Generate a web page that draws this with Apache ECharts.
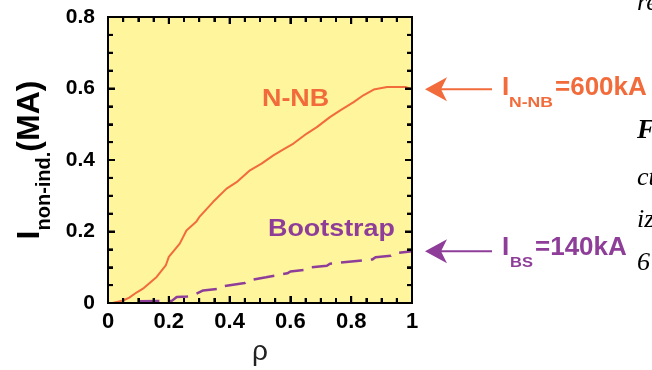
<!DOCTYPE html>
<html>
<head>
<meta charset="utf-8">
<script src="https://cdn.jsdelivr.net/npm/echarts@6/dist/echarts.min.js"></script>
<style>
    html, body { margin: 0; padding: 0; background: #fff; }
    #echarts { width: 652px; height: 370px; }
</style>
</head>
<body>
<div id="echarts"></div>
<script>
    /* data */
    var rho = [0.015, 0.05, 0.07, 0.095, 0.115, 0.16, 0.19, 0.2, 0.236, 0.258, 0.29, 0.3, 0.346, 0.39, 0.423,
        0.467, 0.505, 0.544, 0.577, 0.61, 0.654, 0.687, 0.73, 0.764, 0.808, 0.84, 0.874, 0.918, 0.978, 1.0];
    var nnb = [0, 0.007, 0.015, 0.03, 0.04, 0.073, 0.105, 0.129, 0.166, 0.203, 0.227, 0.24, 0.283, 0.32, 0.338,
        0.371, 0.39, 0.413, 0.43, 0.446, 0.474, 0.492, 0.52, 0.539, 0.562, 0.581, 0.597, 0.604, 0.604, 0.598];
    var bsRho = [0.1, 0.21, 0.226, 0.26, 0.29, 0.313, 0.37, 0.38, 0.45, 0.46, 0.52, 0.59, 0.6, 0.66, 0.67,
        0.72, 0.73, 0.87, 0.88, 0.93, 0.94, 1.0];
    var bs = [0.005, 0.006, 0.017, 0.018, 0.026, 0.035, 0.04, 0.047, 0.056, 0.063, 0.072, 0.083, 0.088, 0.094, 0.1,
        0.104, 0.11, 0.122, 0.128, 0.132, 0.139, 0.145];
    var xTicks = [0, 0.2, 0.4, 0.6, 0.8, 1];
    var yTicks = [0, 0.2, 0.4, 0.6, 0.8];

    var orange = '#F26B3B', purple = '#8E3E98', yellow = '#FFF59D';
    var font = '"Liberation Sans", Arial, sans-serif';
    var serif = '"Liberation Serif", "Times New Roman", serif';

    var myChart = echarts.init(document.getElementById('echarts'));

    function frameAxis(ticks, pos, withLabel) {
        return {
            type: 'value',
            position: pos,
            z: 5,
            min: ticks[0],
            max: ticks[ticks.length - 1],
            interval: ticks[1] - ticks[0],
            axisLine: { show: true, onZero: false, lineStyle: { color: '#000', width: 2 } },
            axisTick: { show: true, inside: true, length: 7, lineStyle: { color: '#000', width: 2 } },
            minorTick: { show: true, splitNumber: 4, length: 5, lineStyle: { color: '#000', width: 2 } },
            splitLine: { show: false },
            minorSplitLine: { show: false },
            axisLabel: { show: withLabel, color: '#000', fontWeight: 'bold', fontFamily: font, fontSize: 22 }
        };
    }

    var xBottom = frameAxis(xTicks, 'bottom', true);
    xBottom.axisLabel.margin = 8;
    xBottom.name = 'ρ';
    xBottom.nameLocation = 'middle';
    xBottom.nameGap = 31;
    xBottom.nameTextStyle = { fontSize: 28, color: '#222', fontFamily: font };

    var yLeft = frameAxis(yTicks, 'left', true);
    yLeft.axisLabel.margin = 13;
    yLeft.axisLabel.fontSize = 21;
    yLeft.name = '{m|I}{s|non-ind.}{m|(MA)}';
    yLeft.nameLocation = 'middle';
    yLeft.nameRotate = 90;
    yLeft.nameGap = 62;
    yLeft.nameTextStyle = {
        rich: {
            m: { fontSize: 32, lineHeight: 32, fontWeight: 'bold', color: '#000', fontFamily: font, verticalAlign: 'top' },
            s: { fontSize: 20, lineHeight: 20, fontWeight: 'bold', color: '#000', fontFamily: font, verticalAlign: 'top', padding: [20, 0, 0, 0] }
        }
    };

    var option = {
        animation: false,
        grid: {
            left: 108, right: 240, top: 17, bottom: 67,
            show: false,
            outerBoundsMode: 'none'
        },
        xAxis: [xBottom, frameAxis(xTicks, 'top', false)],
        yAxis: [yLeft, frameAxis(yTicks, 'right', false)],
        series: [{
            name: 'N-NB',
            type: 'line',
            showSymbol: false,
            data: rho.map(function (r, i) { return [r, nnb[i]]; }),
            lineStyle: { color: orange, width: 2 }
        }, {
            name: 'Bootstrap',
            type: 'line',
            showSymbol: false,
            data: bsRho.map(function (r, i) { return [r, bs[i]]; }),
            lineStyle: { color: purple, width: 2.5, type: [21, 9] }
        }]
    };
    myChart.setOption(option);

    function px(x, y) {
        return myChart.convertToPixel({ gridIndex: 0 }, [x, y]);
    }
    var p0 = px(xTicks[0], yTicks[yTicks.length - 1]);
    var p1 = px(xTicks[xTicks.length - 1], yTicks[0]);

    function seg(x1, y1, x2, y2, color, w) {
        return {
            type: 'line', silent: true, z: 20,
            shape: { x1: x1, y1: y1, x2: x2, y2: y2 },
            style: { stroke: color, lineWidth: w }
        };
    }

    /* box frame ticks, placed from the tick arrays through the axis scale */
    function frameTicks() {
        var out = [];
        function sub(ticks, cb) {
            for (var i = 0; i < ticks.length; i++) {
                cb(ticks[i], 7);
                if (i < ticks.length - 1) {
                    for (var k = 1; k < 4; k++) cb(ticks[i] + (ticks[i + 1] - ticks[i]) * k / 4, 5);
                }
            }
        }
        sub(xTicks, function (v, len) {
            var x = px(v, 0)[0];
            out.push(seg(x, p1[1], x, p1[1] - len, '#000', 2));
            out.push(seg(x, p0[1], x, p0[1] + len, '#000', 2));
        });
        sub(yTicks, function (v, len) {
            var y = px(0, v)[1];
            out.push(seg(p0[0], y, p0[0] + len, y, '#000', 2));
            out.push(seg(p1[0], y, p1[0] - len, y, '#000', 2));
        });
        return out;
    }

    /* arrows + labels on the right, arrow heights follow the last values */
    function arrow(y, color) {
        var tip = p1[0] + 13;
        return [seg(tip + 14, y, tip + 67, y, color, 2), {
            type: 'polygon', silent: true,
            shape: { points: [[tip, y], [tip + 22, y - 12], [tip + 16, y], [tip + 22, y + 12]] },
            style: { fill: color }
        }];
    }
    function txt(x, y, s, size, color, opts) {
        opts = opts || {};
        return {
            type: 'text', silent: true, x: x, y: y,
            scaleX: opts.sx || 1,
            style: {
                text: s, fill: color, fontSize: size,
                fontWeight: opts.weight || 'bold',
                fontStyle: opts.style || 'normal',
                fontFamily: opts.family || font,
                align: 'left', verticalAlign: 'middle'
            }
        };
    }
    var yN = px(1, nnb[nnb.length - 1])[1];
    var yB = px(1, bs[bs.length - 1])[1];

    var g = [{
        type: 'rect', silent: true, z: -10,
        shape: { x: p0[0], y: p0[1], width: p1[0] - p0[0], height: p1[1] - p0[1] },
        style: { fill: yellow }
    }, {
        type: 'rect', silent: true, z: 20,
        shape: { x: p0[0], y: p0[1], width: p1[0] - p0[0], height: p1[1] - p0[1] },
        style: { fill: null, stroke: '#000', lineWidth: 2 }
    }];
    g = g.concat(frameTicks(), arrow(yN, orange), arrow(yB, purple));
    g.push(txt(262, 99.6, 'N-NB', 24, orange, { sx: 1.12 }));
    g.push(txt(268, 229.6, 'Bootstrap', 24, purple, { sx: 1.12 }));
    g.push(txt(502, 88, 'I', 26, orange));
    g.push(txt(509, 102.7, 'N-NB', 15, orange, { sx: 1.17 }));
    g.push(txt(555, 88, '=600kA', 26, orange));
    g.push(txt(502, 248, 'I', 26, purple));
    g.push(txt(510, 262.7, 'BS', 15, purple, { sx: 1.1 }));
    g.push(txt(535, 248, '=140kA', 26, purple));
    // fragments of the surrounding page text
    g.push(txt(637, 3, 're', 26, '#000', { weight: 'normal', style: 'italic', family: serif }));
    g.push(txt(637, 131, 'F', 27, '#000', { weight: 'bold', style: 'italic', family: serif }));
    g.push(txt(637, 178, 'ct', 26, '#000', { weight: 'normal', style: 'italic', family: serif }));
    g.push(txt(637, 220, 'iz', 26, '#000', { weight: 'normal', style: 'italic', family: serif }));
    g.push(txt(637, 263, '6', 26, '#000', { weight: 'normal', style: 'italic', family: serif }));

    myChart.setOption({ graphic: { elements: g } });
</script>
</body>
</html>
